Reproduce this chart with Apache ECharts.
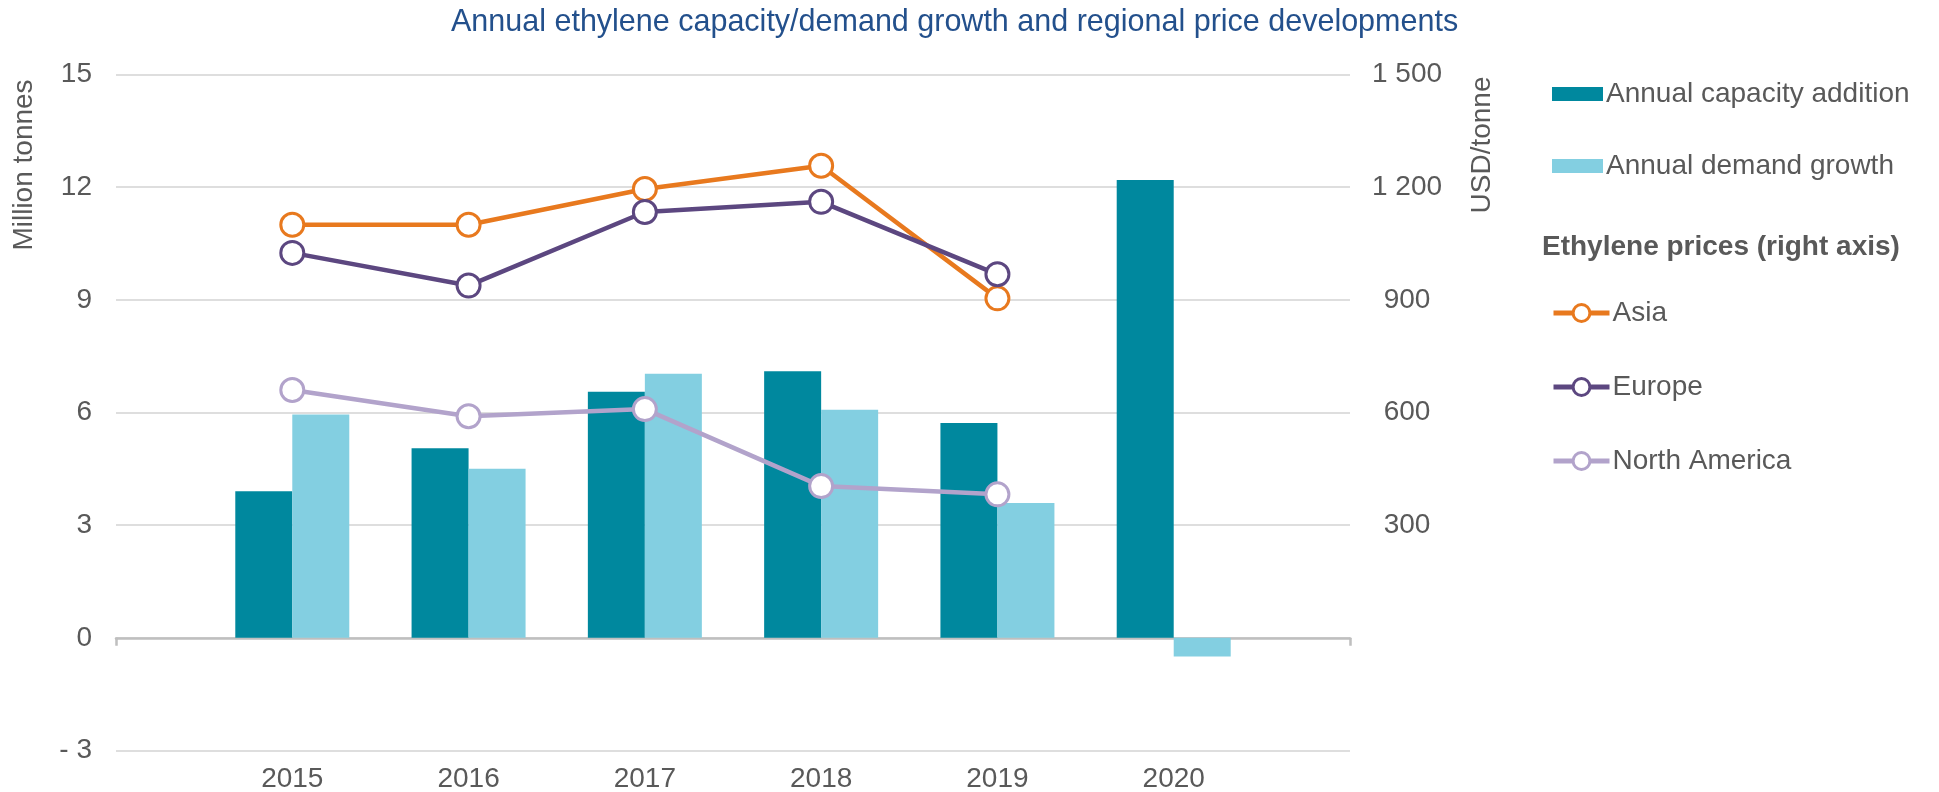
<!DOCTYPE html>
<html>
<head>
<meta charset="utf-8">
<script src="https://cdn.jsdelivr.net/npm/echarts@6/dist/echarts.min.js"></script>
<style>
  html, body { margin: 0; padding: 0; background: #fff; }
  #chart { width: 1939px; height: 792px; }
</style>
</head>
<body>
<div id="chart"></div>
<script>
// categories (blank slot at each end, like the original)
const years = ['', '2015', '2016', '2017', '2018', '2019', '2020', ''];

// million tonnes, left axis
const capacityAddition = [null, 3.9, 5.05, 6.55, 7.1, 5.72, 12.19, null];
const demandGrowth = [null, 5.95, 4.5, 7.03, 6.07, 3.59, -0.5, null];

// USD/tonne, right axis
const asiaPrice = [null, 1100, 1100, 1195, 1257, 904, null, null];
const europePrice = [null, 1025, 938, 1134, 1161, 968, null, null];
const naPrice = [null, 660, 590, 609, 404, 382, null, null];

const leftTicks = { min: -3, max: 15, interval: 3 };
const rightTicks = { min: -300, max: 1500, interval: 300 };

const gray = '#595959';
const font = 'Liberation Sans, Arial, sans-serif';

const chart = echarts.init(document.getElementById('chart'));

function priceLine(name, data, color) {
    return {
        name: name,
        type: 'line',
        yAxisIndex: 1,
        data: data,
        symbol: 'circle',
        symbolSize: 23,
        showAllSymbol: true,
        z: 5,
        lineStyle: { color: color, width: 4.5 },
        itemStyle: { color: '#fff', borderColor: color, borderWidth: 3 }
    };
}

const option = {
    animation: false,
    textStyle: { fontFamily: font },
    title: {
        text: 'Annual ethylene capacity/demand growth and regional price developments',
        left: 446,
        top: 2,
        textStyle: { color: '#23508c', fontSize: 30.5, fontWeight: 'normal', fontFamily: font }
    },
    grid: { left: 116, right: 589, top: 74.5, bottom: 41.5, containLabel: false, outerBoundsMode: 'none' },
    legend: [{
        data: ['Annual capacity addition', 'Annual demand growth'],
        orient: 'vertical',
        left: 1552,
        top: 80,
        padding: 0,
        itemWidth: 51,
        itemHeight: 14,
        itemGap: 44,
        icon: 'rect',
        textStyle: { color: gray, fontSize: 28, fontFamily: font, padding: [0, 0, 0, -2] }
    }, {
        data: ['Asia', 'Europe', 'North America'],
        orient: 'vertical',
        left: 1551,
        top: 299,
        padding: 0,
        itemWidth: 56,
        itemHeight: 21,
        itemGap: 46,
        lineStyle: { width: 5 },
        itemStyle: { borderWidth: 3 },
        textStyle: { color: gray, fontSize: 28, fontFamily: font, padding: [0, 0, 0, -2] }
    }],
    graphic: [{
        type: 'text',
        left: 1542,
        top: 233,
        style: { text: 'Ethylene prices (right axis)', fill: gray, font: 'bold 28px ' + font }
    }, {
        type: 'text',
        x: 24,
        y: 165,
        rotation: Math.PI / 2,
        style: { text: 'Million tonnes', fill: gray, font: '28px ' + font, align: 'center', verticalAlign: 'middle' }
    }, {
        type: 'text',
        x: 1482,
        y: 145,
        rotation: Math.PI / 2,
        style: { text: 'USD/tonne', fill: gray, font: '28px ' + font, align: 'center', verticalAlign: 'middle' }
    }],
    xAxis: [{
        // year labels along the bottom of the plot
        type: 'category',
        data: years,
        boundaryGap: false,
        position: 'bottom',
        axisLine: { show: false, onZero: false },
        axisTick: { show: false },
        axisLabel: { interval: 0, margin: 15, color: gray, fontSize: 28, fontFamily: font }
    }, {
        // zero line with end ticks
        type: 'category',
        data: years,
        boundaryGap: false,
        position: 'bottom',
        axisLine: { onZero: true, lineStyle: { color: '#bfbfbf', width: 2.5 } },
        axisTick: {
            show: true,
            length: 8,
            interval: function (idx) { return idx === 0 || idx === years.length - 1; },
            lineStyle: { color: '#bfbfbf', width: 2.5 }
        },
        axisLabel: { show: false }
    }],
    yAxis: [{
        type: 'value',
        min: leftTicks.min,
        max: leftTicks.max,
        interval: leftTicks.interval,
        axisLine: { show: false },
        axisTick: { show: false },
        splitLine: { lineStyle: { color: '#dedede', width: 2 } },
        axisLabel: {
            margin: 24,
            color: gray,
            fontSize: 28,
            fontFamily: font,
            formatter: function (v) { return v < 0 ? '- ' + Math.abs(v) : String(v); }
        }
    }, {
        type: 'value',
        min: rightTicks.min,
        max: rightTicks.max,
        interval: rightTicks.interval,
        axisLine: { show: false },
        axisTick: { show: false },
        splitLine: { show: false },
        axisLabel: {
            margin: 57,
            align: 'center',
            color: gray,
            fontSize: 28,
            fontFamily: font,
            formatter: function (v) {
                if (v <= 0) return '';
                return String(v).replace(/\B(?=(\d{3})+(?!\d))/g, ' ');
            }
        }
    }],
    series: [{
        name: 'Annual capacity addition',
        type: 'bar',
        data: capacityAddition,
        barWidth: 57,
        barGap: '0%',
        itemStyle: { color: '#00889e' }
    }, {
        name: 'Annual demand growth',
        type: 'bar',
        data: demandGrowth,
        barWidth: 57,
        barGap: '0%',
        itemStyle: { color: '#83cfe1' }
    },
    priceLine('Asia', asiaPrice, '#e8791e'),
    priceLine('Europe', europePrice, '#5c4780'),
    priceLine('North America', naPrice, '#b2a3cb')
    ]
};

chart.setOption(option);
</script>
</body>
</html>
